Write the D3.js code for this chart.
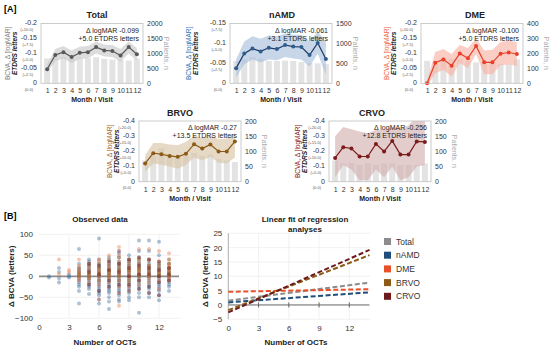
<!DOCTYPE html>
<html>
<head>
<meta charset="utf-8">
<script src="https://cdn.jsdelivr.net/npm/d3@7"></script>
<style>
  body { margin: 0; background: #fff; }
</style>
</head>
<body>
<div id="chart"></div>
<script>
// ---------- data ----------
const months = [1, 2, 3, 4, 5, 6, 7, 8, 9, 10, 11, 12];

// mean change in logMAR (shown as negative on the axis), CI band, patients per visit
const totalMean = [0.047, 0.095, 0.104, 0.088, 0.102, 0.104, 0.121, 0.110, 0.108, 0.093, 0.121, 0.097];
const totalHi = [0.062, 0.115, 0.125, 0.110, 0.122, 0.125, 0.140, 0.130, 0.128, 0.115, 0.140, 0.118];
const totalLo = [0.035, 0.075, 0.083, 0.068, 0.082, 0.083, 0.100, 0.090, 0.088, 0.072, 0.100, 0.076];
const totalPatients = [830, 850, 880, 850, 860, 840, 870, 820, 790, 780, 760, 830];

const namdMean = [0.038, 0.075, 0.087, 0.080, 0.089, 0.086, 0.096, 0.092, 0.091, 0.071, 0.101, 0.061];
const namdHi = [0.060, 0.105, 0.118, 0.112, 0.120, 0.118, 0.125, 0.122, 0.122, 0.105, 0.130, 0.105];
const namdLo = [0.015, 0.048, 0.060, 0.052, 0.060, 0.058, 0.066, 0.062, 0.060, 0.042, 0.075, 0.022];
const namdPatients = [560, 600, 660, 620, 560, 560, 570, 560, 530, 510, 500, 480];

const dmeMean = [0.0, 0.069, 0.080, 0.059, 0.100, 0.084, 0.125, 0.070, 0.070, 0.099, 0.103, 0.098];
const dmeHi = [0.010, 0.105, 0.115, 0.098, 0.128, 0.118, 0.150, 0.110, 0.112, 0.138, 0.142, 0.138];
const dmeLo = [-0.010, 0.033, 0.045, 0.022, 0.068, 0.050, 0.098, 0.030, 0.030, 0.060, 0.064, 0.058];
const dmePatients = [150, 130, 170, 165, 160, 150, 140, 145, 140, 130, 130, 160];

const brvoMean = [0.120, 0.188, 0.181, 0.170, 0.164, 0.184, 0.247, 0.219, 0.245, 0.199, 0.199, 0.265];
const brvoHi = [0.175, 0.255, 0.255, 0.245, 0.240, 0.262, 0.305, 0.290, 0.305, 0.280, 0.285, 0.320];
const brvoLo = [0.066, 0.120, 0.112, 0.100, 0.085, 0.110, 0.160, 0.140, 0.165, 0.125, 0.120, 0.160];
const brvoPatients = [70, 85, 110, 90, 80, 85, 95, 85, 90, 75, 70, 65];

const crvoMean = [0.157, 0.227, 0.219, 0.166, 0.166, 0.249, 0.199, 0.269, 0.179, 0.179, 0.265, 0.262];
const crvoHi = [0.300, 0.360, 0.345, 0.330, 0.320, 0.340, 0.340, 0.360, 0.350, 0.370, 0.430, 0.430];
const crvoLo = [0.030, 0.110, 0.080, 0.010, 0.010, 0.080, 0.030, 0.100, 0.010, 0.030, 0.100, 0.110];
const crvoPatients = [70, 60, 62, 55, 60, 55, 60, 60, 55, 55, 55, 60];

// observed data: [number of OCTs, list of delta BCVA letters]
const obsNAMD = [
  [1, [0, -3]], [2, [20, 10, -5, -15]], [3, [5, 0, -3]],
  [4, [65, 30, 20, 15, 10, 5, 0, -5, -10, -15, -20, -25, -35, -65]],
  [5, [40, 35, 30, 25, 20, 15, 10, 5, 0, -5, -10, -15, -20, -25, -30, -42]],
  [6, [90, 40, 30, 25, 20, 15, 10, 5, 0, -5, -10, -15, -20, -25, -30, -35, -40, -45, -65]],
  [7, [45, 35, 30, 25, 20, 15, 10, 5, 0, -5, -10, -15, -20, -25, -30, -35, -40, -50, -60, -78]],
  [8, [55, 45, 35, 30, 25, 20, 15, 10, 5, 0, -5, -10, -15, -20, -25, -30, -35, -45, -55, -60]],
  [9, [50, 40, 35, 30, 25, 20, 15, 10, 5, 0, -5, -10, -15, -20, -25, -30, -40, -50, -57]],
  [10, [85, 60, 45, 35, 30, 25, 20, 15, 10, 5, 0, -5, -10, -15, -20, -25, -30, -40, -50, -87]],
  [11, [85, 60, 40, 30, 25, 20, 15, 10, 5, 0, -5, -10, -15, -20, -25, -30, -40, -50]],
  [12, [82, 50, 30, 25, 20, 15, 10, 5, 0, -5, -10, -15, -20, -25, -30, -35, -45, -57]],
  [13, [30, 20, 15, 10, 5, 0, -5, -10, -15, -20, -25, -35]]
];
const obsDME = [
  [2, [40, 5]], [3, [15, 10]],
  [4, [40, 25, 15, 10, 5, 0, -5, -10]],
  [5, [30, 20, 10, 5, 0, -5, -15]],
  [6, [40, 35, 20, 15, 10, 5, 0, -10, -20]],
  [7, [50, 30, 20, 15, 10, 5, 0, -5, -15]],
  [8, [70, 50, 35, 25, 15, 10, 5, 0, -10, -25, -70]],
  [9, [40, 30, 20, 15, 10, 5, 0, -5, -15, -25]],
  [10, [65, 40, 30, 20, 15, 10, 5, 0, -10, -20]],
  [11, [65, 40, 25, 20, 10, 5, 0, -5, -15]],
  [12, [60, 35, 25, 15, 10, 5, 0, -10, -30]],
  [13, [55, 40, 30, 25, 20, 15, 10, 5, 0, -5, -10]]
];
const obsBRVO = [
  [4, [20, 10, 5, 0]], [5, [25, 15, 5, 0, -5]], [6, [30, 20, 10, 5, 0, -10]],
  [7, [40, 25, 15, 10, 5, 0]], [8, [45, 30, 20, 15, 5, 0, -10]], [9, [35, 25, 15, 10, 0, -10]],
  [10, [40, 30, 20, 15, 5, 0]], [11, [35, 25, 15, 10, 0]], [12, [30, 20, 10, 5, 0]],
  [13, [40, 30, 20, 10, 5, 0]]
];
const obsCRVO = [
  [5, [30, 10, -20]], [6, [25, 5, -35, -55]], [7, [35, 15, -10, -25]],
  [8, [60, 30, 10, -20, -40]], [9, [40, 20, 0, -20, -35]], [10, [45, 25, 5, -10, -30]],
  [11, [40, 20, 5, -25, -40]], [12, [35, 15, 0, -15, -45]], [13, [20, 5, -10]]
];

// linear fits: value at 0 OCTs and at 14 OCTs
const fitGroups = ["Total", "nAMD", "DME", "BRVO", "CRVO"];
const fitStart = [1.5, 0.9, 4.6, -1.8, -2.6];
const fitEnd = [7.8, 4.4, 5.5, 17.4, 19.2];
const fitColors = ["#8c8c8c", "#1f4e79", "#e8502a", "#8b5a14", "#6e1a1a"];

const W = 550, H = 348;
const FONT = "'Liberation Sans', Arial, Helvetica, sans-serif";
const svg = d3.select("#chart").append("svg").attr("width", W).attr("height", H)
  .attr("font-family", FONT);

// strip d3's default axis font so the svg font is used
function styleAxis(ax, size) {
  ax.attr("font-family", null).attr("font-size", null);
  ax.select(".domain").remove();
  ax.selectAll("text").attr("font-size", size).attr("fill", "#333");
}

// ---------- panel A ----------
const panels = [
  { title: "Total", tx: 97, x0: 41, x1: 143, y0: 23.5, y1: 83.3, yMax: 0.2, yTicks: [0, 0.05, 0.1, 0.15, 0.2], pMax: 2000, pTicks: [0, 500, 1000, 1500, 2000],
    mean: totalMean, hi: totalHi, lo: totalLo, pts: totalPatients, line: "#595959", dot: "#595959", band: "#c9c9c9", lab: "#7f7f7f", labX: 10,
    n1: "-0.099", n2: "+5.0 ETDRS letters" },
  { title: "nAMD", tx: 282, x0: 230, x1: 332, y0: 23.5, y1: 83.3, yMax: 0.15, yTicks: [0, 0.05, 0.1, 0.15], pMax: 1500, pTicks: [0, 500, 1000, 1500],
    mean: namdMean, hi: namdHi, lo: namdLo, pts: namdPatients, line: "#1f3864", dot: "#2e5e8e", band: "#a9c0dc", lab: "#2e75b6", labX: 191,
    n1: "-0.061", n2: "+3.1 ETDRS letters" },
  { title: "DME", tx: 475, x0: 421, x1: 523, y0: 23.5, y1: 83.3, yMax: 0.2, yTicks: [0, 0.05, 0.1, 0.15, 0.2], pMax: 400, pTicks: [0, 100, 200, 300, 400],
    mean: dmeMean, hi: dmeHi, lo: dmeLo, pts: dmePatients, line: "#e8402a", dot: "#e8402a", band: "#f8b4a4", lab: "#f0643c", labX: 389,
    n1: "-0.100", n2: "+5.0 ETDRS letters" },
  { title: "BRVO", tx: 180, x0: 139, x1: 241, y0: 121, y1: 181.7, yMax: 0.4, yTicks: [0, 0.1, 0.2, 0.3, 0.4], pMax: 200, pTicks: [0, 50, 100, 150, 200],
    mean: brvoMean, hi: brvoHi, lo: brvoLo, pts: brvoPatients, line: "#8b5a14", dot: "#8b5a14", band: "#d8c4a6", lab: "#a0662a", labX: 112,
    n1: "-0.27", n2: "+13.5 ETDRS letters" },
  { title: "CRVO", tx: 372, x0: 329, x1: 431, y0: 121, y1: 181.7, yMax: 0.4, yTicks: [0, 0.1, 0.2, 0.3, 0.4], pMax: 200, pTicks: [0, 50, 100, 150, 200],
    mean: crvoMean, hi: crvoHi, lo: crvoLo, pts: crvoPatients, line: "#7b1c1c", dot: "#7b1c1c", band: "#d4b0b0", lab: "#8b2020", labX: 300,
    n1: "-0.256", n2: "+12.8 ETDRS letters" }
];

function fmtLog(v) {
  return v === 0 ? "0" : "-" + String(+v.toFixed(2));
}

panels.forEach((p, i) => {
  const g = svg.append("g");
  const x = d3.scalePoint().domain(months).range([p.x0, p.x1]).padding(0.75);
  const y = d3.scaleLinear().domain([0, p.yMax]).range([p.y1, p.y0]);
  const yP = d3.scaleLinear().domain([0, p.pMax]).range([p.y1, p.y0]);
  const clipId = "clipA" + i;
  g.append("clipPath").attr("id", clipId).append("rect")
    .attr("x", p.x0).attr("y", p.y0).attr("width", p.x1 - p.x0).attr("height", p.y1 - p.y0);

  const plot = g.append("g").attr("clip-path", `url(#${clipId})`);
  // patients bars
  plot.selectAll("rect.bar").data(p.pts).enter().append("rect")
    .attr("x", (d, j) => x(months[j]) - 3)
    .attr("width", 6)
    .attr("y", d => yP(d))
    .attr("height", d => p.y1 - yP(d))
    .attr("fill", "#e3e3e3");
  // CI band
  const area = d3.area()
    .x((d, j) => x(months[j]))
    .y0((d, j) => y(p.lo[j]))
    .y1((d, j) => y(p.hi[j]));
  plot.append("path").datum(p.mean).attr("d", area)
    .attr("fill", p.band).attr("opacity", 0.65);
  // mean line
  const line = d3.line().x((d, j) => x(months[j])).y(d => y(d));
  plot.append("path").datum(p.mean).attr("d", line)
    .attr("fill", "none").attr("stroke", p.line).attr("stroke-width", 1.2);
  g.selectAll("circle.pt").data(p.mean).enter().append("circle")
    .attr("cx", (d, j) => x(months[j])).attr("cy", d => y(d)).attr("r", 2)
    .attr("fill", p.dot);

  // frame
  g.append("rect").attr("x", p.x0).attr("y", p.y0)
    .attr("width", p.x1 - p.x0).attr("height", p.y1 - p.y0)
    .attr("fill", "none").attr("stroke", "#bfbfbf").attr("stroke-width", 0.8);

  // left axis
  const yAx = g.append("g").attr("transform", `translate(${p.x0 - 3},0)`)
    .call(d3.axisLeft(y).tickValues(p.yTicks).tickSize(0).tickPadding(1).tickFormat(fmtLog));
  styleAxis(yAx, 7);
  yAx.selectAll("text").attr("dy", "0.2em");
  g.selectAll("text.sub").data(p.yTicks).enter().append("text")
    .attr("x", p.x0 - 8).attr("y", d => y(d) + 7.6)
    .attr("text-anchor", "end").attr("font-size", 4).attr("fill", "#555")
    .text(d => `(${d === 0 ? "" : "+"}${(d * 50).toFixed(1)})`);

  // right axis
  const pAx = g.append("g").attr("transform", `translate(${p.x1 + 3},0)`)
    .call(d3.axisRight(yP).tickValues(p.pTicks).tickSize(0).tickPadding(1).tickFormat(d3.format("d")));
  styleAxis(pAx, 7);

  // bottom axis
  const xAx = g.append("g").attr("transform", `translate(0,${p.y1 + 3})`)
    .call(d3.axisBottom(x).tickSize(0).tickPadding(2));
  styleAxis(xAx, 7);

  const cx = (p.x0 + p.x1) / 2, cy = (p.y0 + p.y1) / 2;
  g.append("text").attr("x", p.tx).attr("y", p.y0 - 5.5).attr("text-anchor", "middle")
    .attr("font-size", 9).attr("font-weight", "bold").attr("fill", "#222").text(p.title);
  g.append("text").attr("x", cx).attr("y", p.y1 + 19).attr("text-anchor", "middle")
    .attr("font-size", 7).attr("font-weight", "bold").attr("fill", "#222").text("Month / Visit");
  g.append("text").attr("transform", `translate(${p.labX},${cy}) rotate(-90)`)
    .attr("text-anchor", "middle").attr("font-size", 6.5).attr("fill", p.lab)
    .text("BCVA, Δ [logMAR]");
  g.append("text").attr("transform", `translate(${p.labX + 6.5},${cy}) rotate(-90)`)
    .attr("text-anchor", "middle").attr("font-size", 6.5).attr("font-weight", "bold")
    .attr("font-style", "italic").attr("fill", "#222").text("ETDRS letters");
  g.append("text").attr("transform", `translate(${p.x1 + 21},${cy}) rotate(90)`)
    .attr("text-anchor", "middle").attr("font-size", 7).attr("fill", "#aaa")
    .text("Patients, n");

  // annotation
  g.append("text").attr("x", p.x1 - 4).attr("y", p.y0 + 9).attr("text-anchor", "end")
    .attr("font-size", 7).attr("fill", "#222").text(`Δ logMAR ${p.n1}`);
  g.append("text").attr("x", p.x1 - 4).attr("y", p.y0 + 17).attr("text-anchor", "end")
    .attr("font-size", 7).attr("fill", "#222").text(p.n2);
});

svg.append("text").attr("x", 4).attr("y", 12).attr("font-size", 9).attr("font-weight", "bold").text("[A]");
svg.append("text").attr("x", 4).attr("y", 219).attr("font-size", 9).attr("font-weight", "bold").text("[B]");

// ---------- panel B left: observed data ----------
const bx = d3.scaleLinear().domain([0, 14.1]).range([39, 180]);
const by = d3.scaleLinear().domain([-100, 100]).range([318.3, 234.3]);
const bl = svg.append("g");

bl.selectAll("line.hg").data([-100, -50, 50, 100]).enter().append("line")
  .attr("x1", bx(0)).attr("x2", bx(14.1)).attr("y1", d => by(d)).attr("y2", d => by(d))
  .attr("stroke", "#eeeeee").attr("stroke-width", 0.8);
bl.selectAll("line.vg").data([3, 6, 9, 12]).enter().append("line")
  .attr("x1", d => bx(d)).attr("x2", d => bx(d)).attr("y1", by(100)).attr("y2", by(-100))
  .attr("stroke", "#eeeeee").attr("stroke-width", 0.8);

const obsSets = [
  { data: obsNAMD, color: "#3f6e9c", op: 0.42 },
  { data: obsDME, color: "#e8703f", op: 0.4 },
  { data: obsBRVO, color: "#9a6a2a", op: 0.4 },
  { data: obsCRVO, color: "#6e1a1a", op: 0.45 }
];
bl.append("line").attr("x1", bx(0)).attr("x2", bx(14)).attr("y1", by(0)).attr("y2", by(0))
  .attr("stroke", "#8c8c8c").attr("stroke-width", 1.8);
obsSets.forEach(s => {
  const flat = [];
  s.data.forEach(([n, vals]) => vals.forEach(v => flat.push([n, v])));
  bl.append("g").selectAll("circle").data(flat).enter().append("circle")
    .attr("cx", d => bx(d[0])).attr("cy", d => by(d[1])).attr("r", 2)
    .attr("fill", s.color).attr("opacity", s.op);
});

const blY = bl.append("g").attr("transform", `translate(${bx(0) - 4},0)`)
  .call(d3.axisLeft(by).tickValues([-100, -50, 0, 50, 100]).tickSize(0).tickPadding(2));
styleAxis(blY, 8);
const blX = bl.append("g").attr("transform", `translate(0,${by(-100) + 4})`)
  .call(d3.axisBottom(bx).tickValues([0, 3, 6, 9, 12]).tickSize(0).tickPadding(2));
styleAxis(blX, 8);

bl.append("text").attr("x", 100).attr("y", 222).attr("text-anchor", "middle")
  .attr("font-size", 8).attr("font-weight", "bold").attr("fill", "#222").text("Observed data");
bl.append("text").attr("x", 105).attr("y", 345).attr("text-anchor", "middle")
  .attr("font-size", 8).attr("font-weight", "bold").attr("fill", "#222").text("Number of OCTs");
bl.append("text").attr("transform", `translate(14,${by(0)}) rotate(-90)`)
  .attr("text-anchor", "middle").attr("font-size", 8).attr("font-weight", "bold").attr("fill", "#222")
  .text("Δ BCVA (letters)");

// ---------- panel B right: linear fits ----------
const rx = d3.scaleLinear().domain([0, 14.1]).range([228.3, 370.5]);
const ry = d3.scaleLinear().domain([-5, 25]).range([319.3, 233.3]);
const br = svg.append("g");

br.selectAll("line.hg").data([-5, 5, 10, 15, 20, 25]).enter().append("line")
  .attr("x1", rx(0)).attr("x2", rx(14.1)).attr("y1", d => ry(d)).attr("y2", d => ry(d))
  .attr("stroke", "#eeeeee").attr("stroke-width", 0.8);
br.selectAll("line.vg").data([3, 6, 9, 12]).enter().append("line")
  .attr("x1", d => rx(d)).attr("x2", d => rx(d)).attr("y1", ry(25)).attr("y2", ry(-5))
  .attr("stroke", "#eeeeee").attr("stroke-width", 0.8);
br.append("line").attr("x1", rx(0)).attr("x2", rx(0)).attr("y1", ry(25)).attr("y2", ry(-5))
  .attr("stroke", "#999").attr("stroke-width", 0.8);
br.append("line").attr("x1", rx(0)).attr("x2", rx(14)).attr("y1", ry(0)).attr("y2", ry(0))
  .attr("stroke", "#666").attr("stroke-width", 1);
br.selectAll("line.tk").data([3, 6, 9, 12]).enter().append("line")
  .attr("x1", d => rx(d)).attr("x2", d => rx(d)).attr("y1", ry(0) - 2.5).attr("y2", ry(0) + 2.5)
  .attr("stroke", "#666").attr("stroke-width", 1);

fitGroups.forEach((name, i) => {
  br.append("line")
    .attr("x1", rx(0)).attr("y1", ry(fitStart[i]))
    .attr("x2", rx(14)).attr("y2", ry(fitEnd[i]))
    .attr("stroke", fitColors[i]).attr("stroke-width", 2)
    .attr("stroke-dasharray", "5,2.5");
});

const brY = br.append("g").attr("transform", `translate(${rx(0) - 4},0)`)
  .call(d3.axisLeft(ry).tickValues([-5, 0, 5, 10, 15, 20, 25]).tickSize(0).tickPadding(2));
styleAxis(brY, 8);
const brX = br.append("g").attr("transform", `translate(0,${ry(-5) + 4})`)
  .call(d3.axisBottom(rx).tickValues([0, 3, 6, 9, 12]).tickSize(0).tickPadding(2));
styleAxis(brX, 8);

br.append("text").attr("x", 305).attr("y", 222).attr("text-anchor", "middle")
  .attr("font-size", 8).attr("font-weight", "bold").attr("fill", "#222").text("Linear fit of regression");
br.append("text").attr("x", 305).attr("y", 232).attr("text-anchor", "middle")
  .attr("font-size", 8).attr("font-weight", "bold").attr("fill", "#222").text("analyses");
br.append("text").attr("x", 296).attr("y", 345).attr("text-anchor", "middle")
  .attr("font-size", 8).attr("font-weight", "bold").attr("fill", "#222").text("Number of OCTs");
br.append("text").attr("transform", `translate(208,${ry(10)}) rotate(-90)`)
  .attr("text-anchor", "middle").attr("font-size", 8).attr("font-weight", "bold").attr("fill", "#222")
  .text("Δ BCVA (letters)");

// legend
const leg = br.selectAll("g.leg").data(fitGroups).enter().append("g")
  .attr("transform", (d, i) => `translate(384,${238 + i * 13.7})`);
leg.append("rect").attr("width", 7).attr("height", 7).attr("fill", (d, i) => fitColors[i]);
leg.append("text").attr("x", 12).attr("y", 6.5).attr("font-size", 8.5).attr("fill", "#333").text(d => d);
</script>
</body>
</html>
